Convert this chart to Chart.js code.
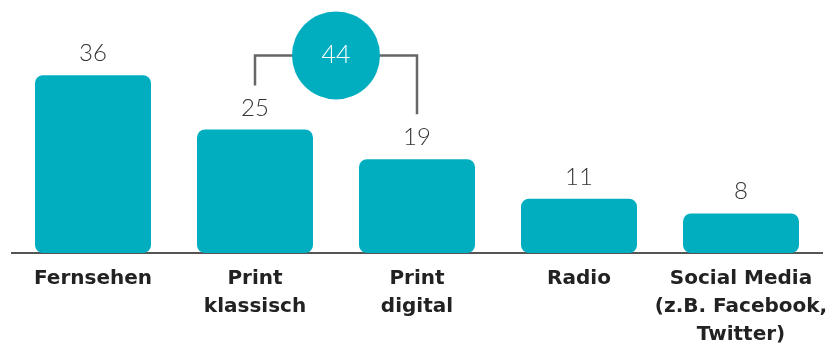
<!DOCTYPE html>
<html>
<head>
<meta charset="utf-8">
<script src="https://cdn.jsdelivr.net/npm/chart.js@4/dist/chart.umd.min.js"></script>
<style>
  html, body { margin: 0; padding: 0; background: #fff; }
  #wrap { width: 837px; height: 344px; position: relative; }
</style>
</head>
<body>
<div id="wrap"><canvas id="c"></canvas></div>
<script>
// Mediennutzung nach Kanal
const categories = [
  ['Fernsehen'],
  ['Print', 'klassisch'],
  ['Print', 'digital'],
  ['Radio'],
  ['Social Media', '(z.B. Facebook,', 'Twitter)']
];
const values = [36, 25, 19, 11, 8];
// Print klassisch + Print digital combined
const printGroup = [1, 2];
const printTotal = values[1] + values[2];

const TEAL = '#00aec0';
const LINE = '#666666';

const annotations = {
  id: 'annotations',
  afterDatasetsDraw(chart) {
    const ctx = chart.ctx;
    const meta = chart.getDatasetMeta(0);
    const yScale = chart.scales.y;

    // value labels above each bar
    ctx.save();
    ctx.fillStyle = '#333';
    ctx.font = '300 24px Lato';
    ctx.textAlign = 'center';
    ctx.textBaseline = 'alphabetic';
    meta.data.forEach((bar, i) => {
      ctx.fillText(String(values[i]), bar.x, bar.y - 14);
    });

    // bracket joining the two print bars
    const a = meta.data[printGroup[0]];
    const b = meta.data[printGroup[1]];
    const yb = yScale.getPixelForValue(40);
    const cx = (a.x + b.x) / 2;
    const r = 44;
    ctx.strokeStyle = LINE;
    ctx.lineWidth = 2.5;
    ctx.lineCap = 'butt';
    ctx.beginPath();
    ctx.moveTo(a.x, a.y - 44);
    ctx.lineTo(a.x, yb);
    ctx.lineTo(b.x, yb);
    ctx.lineTo(b.x, b.y - 45);
    ctx.stroke();

    // circle with the combined value
    ctx.fillStyle = TEAL;
    ctx.beginPath();
    ctx.arc(cx, yb, r, 0, Math.PI * 2);
    ctx.fill();
    ctx.fillStyle = '#ffffff';
    ctx.font = '300 25px Lato';
    ctx.textBaseline = 'middle';
    ctx.fillText(String(printTotal), cx, yb);
    ctx.restore();
  }
};

new Chart(document.getElementById('c'), {
  type: 'bar',
  data: {
    labels: categories,
    datasets: [{
      data: values,
      backgroundColor: TEAL,
      borderWidth: 0,
      borderRadius: 8,
      borderSkipped: false,
      barPercentage: 0.716,
      categoryPercentage: 1
    }]
  },
  options: {
    responsive: true,
    maintainAspectRatio: false,
    animation: false,
    layout: { padding: { left: 12, right: 15, top: 6, bottom: 0 } },
    plugins: { legend: { display: false }, tooltip: { enabled: false } },
    scales: {
      x: {
        grid: { display: false, drawTicks: false },
        border: { display: true, color: '#555', width: 2 },
        ticks: {
          color: '#222',
          font: { family: '"DejaVu Sans"', weight: 'bold', size: 20, lineHeight: 1.4 },
          padding: 12,
          maxRotation: 0,
          autoSkip: false
        },
        afterFit(axis) {
          axis.height = 91;
          axis.paddingLeft = 0;
          axis.paddingRight = 0;
        }
      },
      y: {
        display: false,
        min: 0,
        max: 50
      }
    }
  },
  plugins: [annotations]
});
</script>
</body>
</html>
